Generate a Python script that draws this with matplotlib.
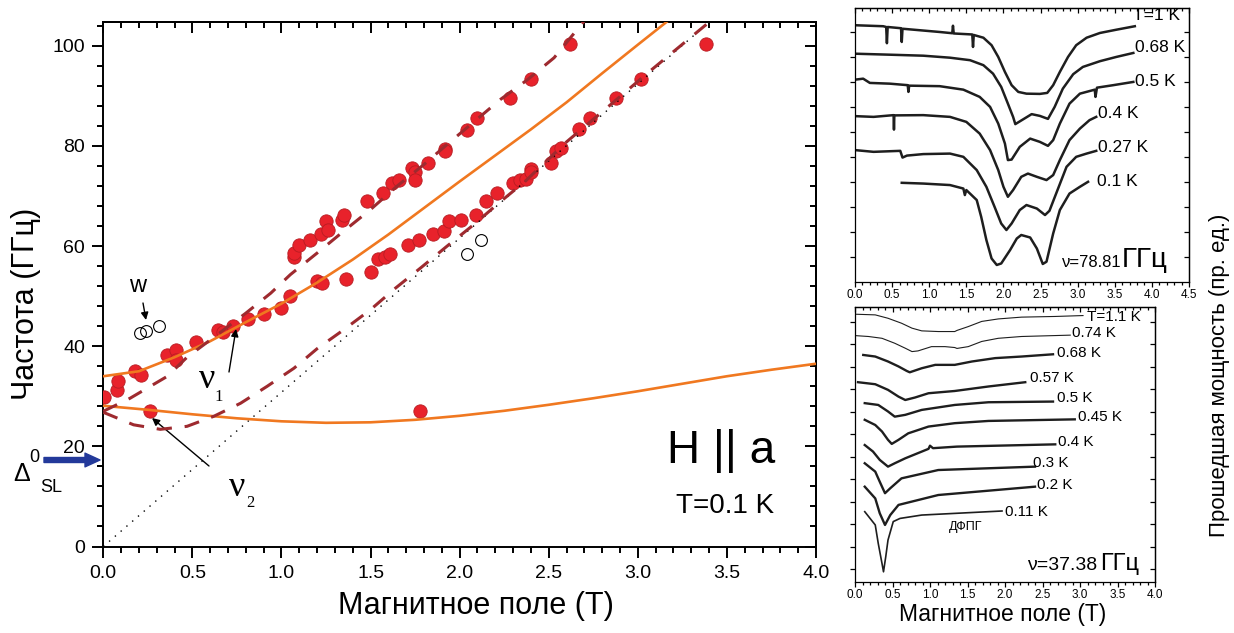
import matplotlib
matplotlib.use('Agg')
import matplotlib.pyplot as plt
from matplotlib.ticker import MultipleLocator, FixedLocator, NullFormatter
import numpy as np

plt.rcParams['font.family'] = ['Liberation Sans', 'DejaVu Sans']

W, H = 1234, 633

# ---------------- main panel data ----------------
pts_B = [0.006, 0.075, 0.08, 0.18, 0.21, 0.26, 0.36, 0.41, 0.41, 0.52, 0.645, 0.67, 0.73,
         0.81, 0.90, 1.00, 1.05, 1.07, 1.07, 1.10, 1.16, 1.20, 1.23, 1.22, 1.25, 1.26, 1.34,
         1.35, 1.36, 1.48, 1.50, 1.54, 1.58, 1.61, 1.57, 1.62, 1.66, 1.71, 1.73, 1.75, 1.75,
         1.77, 1.78, 1.82, 1.85, 1.91, 1.92, 1.92, 1.94, 2.01, 2.04, 2.09, 2.10, 2.15, 2.21,
         2.28, 2.30, 2.34, 2.37, 2.40, 2.40, 2.40, 2.51, 2.54, 2.57, 2.62, 2.67, 2.73, 2.88,
         3.02, 3.38]
pts_F = [29.8, 31.2, 33.0, 35.0, 34.3, 27.0, 38.2, 39.2, 37.3, 40.8, 43.2, 42.8, 44.0,
         45.4, 46.4, 47.7, 50.0, 57.8, 58.6, 60.2, 61.2, 53.0, 52.6, 62.4, 65.0, 63.2, 65.3,
         66.2, 53.4, 69.0, 54.8, 57.4, 57.8, 58.5, 70.6, 72.6, 73.2, 60.3, 75.6, 74.8, 73.2,
         61.2, 27.0, 76.6, 62.5, 63.1, 79.4, 79.0, 65.0, 65.2, 83.2, 66.2, 85.5, 68.9, 70.5,
         89.6, 72.6, 73.2, 73.4, 93.3, 75.4, 74.8, 76.6, 78.9, 79.6, 100.4, 83.3, 85.5, 89.6,
         93.3, 100.4]

open_B = [0.206, 0.241, 0.31, 2.04, 2.12]
open_F = [42.6, 43.0, 44.0, 58.5, 61.2]

# theory curves
nu1_B = [0.0, 0.2, 0.4, 0.6, 0.8, 1.0, 1.2, 1.4, 1.6, 1.8, 2.0, 2.2, 2.4, 2.6, 2.8, 3.0, 3.17]
nu1_F = [34.0, 35.0, 37.8, 41.0, 44.8, 48.5, 52.7, 57.3, 62.3, 67.6, 72.9, 78.1, 83.3, 88.7, 94.5, 100.2, 105.0]
nu2_B = [0.0, 0.25, 0.5, 0.75, 1.0, 1.25, 1.5, 1.75, 2.0, 2.25, 2.5, 2.75, 3.0, 3.25, 3.5, 3.75, 4.0]
nu2_F = [28.1, 27.3, 26.4, 25.6, 25.0, 24.7, 24.8, 25.3, 26.1, 27.1, 28.3, 29.6, 31.0, 32.5, 34.0, 35.3, 36.5]
d1_B = [0.0, 0.15, 0.36, 0.47, 0.64, 0.80, 0.94, 1.05, 1.20, 1.35, 1.50, 1.65, 1.80, 1.92, 2.04, 2.23, 2.38, 2.53, 2.70]
d1_F = [27.0, 29.6, 34.0, 37.8, 42.3, 46.6, 50.6, 54.3, 58.6, 63.0, 67.3, 72.0, 76.3, 80.0, 83.6, 89.3, 93.2, 97.6, 105.0]
d2_B = [0.0, 0.17, 0.32, 0.47, 0.62, 0.77, 0.92, 1.07, 1.20, 1.35, 1.50, 1.64, 1.78, 1.93, 2.08, 2.22, 2.37, 2.6, 2.8, 3.05, 3.41]
d2_F = [26.8, 24.3, 23.4, 24.0, 26.0, 28.6, 32.0, 35.6, 39.5, 43.3, 47.3, 51.6, 55.6, 60.0, 64.3, 68.6, 73.0, 80.8, 86.8, 94.4, 105.0]
dot_B = [0.0, 3.41]
dot_F = [0.0, 105.0]

# ---------------- top inset (nu = 78.81 GHz) ----------------
a_T1_B = [0, 0.38, 0.42, 0.43, 0.44, 0.62, 0.63, 0.64, 1.14, 1.31, 1.32, 1.33, 1.58, 1.59, 1.60, 1.73, 1.84,
          1.93, 2.02, 2.11, 2.20, 2.31, 2.49, 2.59, 2.67, 2.76, 2.87, 2.98, 3.12, 3.30, 3.52, 3.77]
a_T1_y = [10.27, 10.23, 10.2, 9.55, 10.2, 10.15, 9.6, 10.13, 10.0, 9.95, 10.25, 9.94, 9.9, 9.4, 9.88, 9.77, 9.47,
          9.0, 8.4, 7.87, 7.6, 7.53, 7.52, 7.56, 7.87, 8.4, 9.0, 9.47, 9.77, 9.96, 10.09, 10.23]
a_068_B = [0.0, 0.47, 0.92, 1.28, 1.55, 1.73, 1.86, 1.97, 2.06, 2.13, 2.16, 2.27, 2.38, 2.49, 2.60, 2.69,
           2.80, 2.94, 3.07, 3.30, 3.52, 3.75]
a_068_y = [9.13, 9.09, 9.05, 8.97, 8.87, 8.67, 8.33, 7.80, 7.13, 6.60, 6.31, 6.51, 6.71, 6.64, 6.52, 7.00,
           7.73, 8.31, 8.60, 8.83, 9.00, 9.16]
a_05_B = [0, 0.11, 0.20, 0.47, 0.71, 0.72, 0.73, 1.14, 1.46, 1.68, 1.82, 1.93, 2.02, 2.06, 2.11, 2.22, 2.36,
          2.49, 2.60, 2.67, 2.76, 2.89, 3.03, 3.23, 3.24, 3.26, 3.48, 3.75]
a_05_y = [8.09, 8.13, 7.96, 7.93, 7.87, 7.60, 7.85, 7.83, 7.69, 7.40, 7.00, 6.33, 5.53, 4.87, 4.89, 5.40, 5.73,
          5.60, 5.44, 5.67, 6.33, 7.13, 7.53, 7.69, 7.40, 7.77, 7.87, 8.00]
a_04_B = [0, 0.25, 0.52, 0.525, 0.53, 0.92, 1.28, 1.50, 1.68, 1.82, 1.93, 2.00, 2.06, 2.13, 2.24, 2.33, 2.45,
          2.58, 2.67, 2.76, 2.89, 3.03, 3.16, 3.25]
a_04_y = [6.63, 6.60, 6.67, 6.09, 6.66, 6.67, 6.60, 6.40, 5.93, 5.27, 4.47, 3.80, 3.40, 3.67, 4.20, 4.33, 4.20,
          4.07, 4.27, 4.87, 5.67, 6.13, 6.47, 6.60]
a_027_B = [0, 0.25, 0.61, 0.64, 0.70, 0.92, 1.28, 1.46, 1.64, 1.77, 1.88, 1.97, 2.04, 2.11, 2.22, 2.31, 2.45,
           2.56, 2.62, 2.71, 2.85, 2.98, 3.12, 3.25]
a_027_y = [5.27, 5.20, 5.24, 4.97, 5.05, 5.11, 5.13, 5.00, 4.47, 3.80, 3.00, 2.33, 2.07, 2.33, 2.87, 3.07, 2.93,
           2.67, 2.84, 3.53, 4.60, 5.00, 5.13, 5.24]
a_01_B = [0.63, 0.92, 1.28, 1.46, 1.48, 1.50, 1.64, 1.70, 1.77, 1.84, 1.91, 1.97, 2.09, 2.18, 2.24, 2.36, 2.45,
          2.53, 2.58, 2.67, 2.76, 2.89, 3.03, 3.14]
a_01_y = [3.96, 3.93, 3.87, 3.73, 3.47, 3.67, 3.27, 2.60, 1.67, 0.93, 0.67, 0.73, 1.27, 1.73, 1.87, 1.77, 1.33,
          0.71, 0.80, 1.93, 2.87, 3.53, 3.80, 4.00]
top_labels = ['T=1 K', '0.68 K', '0.5 K', '0.4 K', '0.27 K', '0.1 K']

# ---------------- bottom inset (nu = 37.38 GHz) ----------------
b_11_B = [0, 0.27, 0.44, 0.62, 0.76, 0.89, 1.11, 1.33, 1.36, 1.51, 1.69, 1.91, 2.22, 2.67, 3.04]
b_11_y = [11.88, 11.85, 11.70, 11.48, 11.26, 11.14, 11.11, 11.11, 11.16, 11.33, 11.56, 11.67, 11.75, 11.78, 11.82]
b_074_B = [0, 0.18, 0.36, 0.53, 0.67, 0.76, 0.84, 1.02, 1.20, 1.33, 1.36, 1.51, 1.69, 1.91, 2.22, 2.87]
b_074_y = [10.93, 10.89, 10.81, 10.59, 10.37, 10.22, 10.25, 10.44, 10.44, 10.40, 10.36, 10.44, 10.67, 10.81, 10.89, 10.95]
b_068_B = [0.11, 0.27, 0.44, 0.58, 0.69, 0.73, 0.89, 1.07, 1.33, 1.56, 1.87, 2.22, 2.64]
b_068_y = [10.07, 10.0, 9.78, 9.56, 9.36, 9.30, 9.48, 9.63, 9.63, 9.78, 9.93, 10.0, 10.10]
b_057_B = [0.04, 0.27, 0.44, 0.58, 0.67, 0.80, 0.98, 1.33, 1.78, 2.27]
b_057_y = [8.86, 8.77, 8.52, 8.22, 8.07, 8.18, 8.37, 8.47, 8.67, 8.86]
b_05_B = [0.13, 0.31, 0.44, 0.53, 0.67, 0.89, 1.33, 1.78, 2.64]
b_05_y = [7.93, 7.85, 7.56, 7.33, 7.41, 7.63, 7.85, 7.97, 8.0]
b_045_B = [0.13, 0.27, 0.36, 0.44, 0.49, 0.58, 0.71, 0.98, 1.33, 1.78, 2.93]
b_045_y = [7.19, 6.96, 6.67, 6.30, 6.12, 6.30, 6.59, 6.89, 7.04, 7.14, 7.21]
b_04_B = [0.13, 0.24, 0.33, 0.44, 0.53, 0.67, 0.98, 1.0, 1.04, 1.36, 2.67]
b_04_y = [6.07, 5.78, 5.41, 5.11, 5.26, 5.48, 5.90, 6.04, 5.93, 6.0, 6.10]
b_03_B = [0.13, 0.27, 0.33, 0.40, 0.47, 0.62, 1.11, 2.40]
b_03_y = [5.26, 4.89, 4.44, 3.93, 4.15, 4.59, 4.96, 5.11]
b_02_B = [0.13, 0.27, 0.33, 0.40, 0.47, 0.58, 1.11, 2.40]
b_02_y = [4.22, 3.70, 3.04, 2.52, 2.96, 3.41, 3.85, 4.22]
b_011_B = [0.13, 0.27, 0.31, 0.36, 0.38, 0.41, 0.44, 0.51, 0.60, 0.89, 1.96]
b_011_y = [3.11, 2.52, 1.70, 0.81, 0.44, 1.11, 1.85, 2.67, 2.81, 2.96, 3.14]
bot_labels = ['T=1.1 K', '0.74 K', '0.68 K', '0.57 K', '0.5 K', '0.45 K', '0.4 K', '0.3 K', '0.2 K', '0.11 K']

# ---------------- drawing ----------------
fig = plt.figure(figsize=(W / 100, H / 100), dpi=100)

def fr(px, py):
    return px / W, 1 - py / H

def rect(l, t, r, b):
    return [l / W, 1 - b / H, (r - l) / W, (b - t) / H]

def style(ax, xmaj, xmin, yloc, ymin_loc, major_len, minor_len, lw, lsize, pad):
    for s in ax.spines.values():
        s.set_linewidth(lw)
    ax.xaxis.set_major_locator(MultipleLocator(xmaj))
    ax.xaxis.set_minor_locator(MultipleLocator(xmin))
    ax.yaxis.set_major_locator(yloc)
    if ymin_loc is not None:
        ax.yaxis.set_minor_locator(ymin_loc)
    ax.tick_params(which='major', direction='out', length=major_len, width=lw, labelsize=lsize, pad=pad)
    ax.tick_params(which='minor', direction='out', length=minor_len, width=lw)
    sx = ax.secondary_xaxis('top')
    sx.xaxis.set_major_locator(MultipleLocator(xmaj))
    sx.xaxis.set_minor_locator(MultipleLocator(xmin))
    sx.tick_params(which='major', direction='in', length=major_len, width=lw, labeltop=False)
    sx.tick_params(which='minor', direction='in', length=minor_len, width=lw)
    sy = ax.secondary_yaxis('right')
    sy.yaxis.set_major_locator(yloc)
    if ymin_loc is not None:
        sy.yaxis.set_minor_locator(ymin_loc)
    sy.tick_params(which='major', direction='in', length=major_len, width=lw, labelright=False)
    sy.tick_params(which='minor', direction='in', length=minor_len, width=lw)
    for s in list(sx.spines.values()) + list(sy.spines.values()):
        s.set_linewidth(lw)

# main axes
ax = fig.add_axes(rect(103.3, 21.7, 816, 546.5))
ax.set_xlim(0, 4.0)
ax.set_ylim(0, 104.8)
style(ax, 0.5, 0.1, MultipleLocator(20), MultipleLocator(4), 8, 4.5, 1.4, 14, 5)
ax.xaxis.set_major_formatter(matplotlib.ticker.FormatStrFormatter('%.1f'))

orange = '#f07820'
dred = '#9e2a2f'
ax.plot(pts_B, pts_F, 'o', ms=9.6, mfc='#e8222b', mec='#b71c22', mew=0.6, zorder=3)
ax.plot(open_B, open_F, 'o', ms=8.5, mfc='none', mec='black', mew=0.8, zorder=3)
ax.plot(dot_B, dot_F, color='black', lw=1.0, dashes=(1, 4.5), zorder=4)
ax.plot(nu1_B, nu1_F, color=orange, lw=1.9, zorder=5)
ax.plot(nu2_B, nu2_F, color=orange, lw=1.9, zorder=5)
ax.plot(d1_B, d1_F, color=dred, lw=2.2, dashes=(5, 4.2), zorder=5)
ax.plot(d2_B, d2_F, color=dred, lw=2.2, dashes=(5, 4.2), zorder=5)

def fp(px, py):
    return (px, H - py)

arr = dict(arrowstyle='-|>', lw=1.0, color='black', mutation_scale=11, shrinkA=0, shrinkB=0)
ax.annotate('', xy=fp(146, 320), xytext=fp(143, 303), xycoords='figure pixels',
            textcoords='figure pixels', arrowprops=arr, annotation_clip=False)
ax.annotate('', xy=fp(236, 329), xytext=fp(229, 372), xycoords='figure pixels',
            textcoords='figure pixels', arrowprops=arr, annotation_clip=False)
ax.annotate('', xy=fp(152, 418), xytext=fp(209, 466), xycoords='figure pixels',
            textcoords='figure pixels', arrowprops=arr, annotation_clip=False)
ax.annotate('', xy=fp(100, 460), xytext=fp(44, 460), xycoords='figure pixels',
            textcoords='figure pixels', annotation_clip=False,
            arrowprops=dict(arrowstyle='simple,head_width=0.55,head_length=0.6,tail_width=0.2',
                            color='#23399a', mutation_scale=18, shrinkA=0, shrinkB=0))

fig.text(*fr(138, 286), 'w', fontsize=17, ha='center', va='center')
serif = ['Liberation Serif', 'DejaVu Serif']
fig.text(*fr(207, 380), 'ν', fontsize=26, family=serif, ha='center', va='center')
fig.text(*fr(219, 397), '1', fontsize=12, family=serif, ha='center', va='center')
fig.text(*fr(237, 488), 'ν', fontsize=26, family=serif, ha='center', va='center')
fig.text(*fr(250, 503), '2', fontsize=12, family=serif, ha='center', va='center')
fig.text(*fr(22, 474), 'Δ', fontsize=18, ha='center', va='center')
fig.text(*fr(34, 458), '0', fontsize=13, ha='center', va='center')
fig.text(*fr(51, 487), 'SL', fontsize=13, ha='center', va='center')
fig.text(*fr(667, 463), 'H || a', fontsize=33, ha='left', va='baseline')
fig.text(*fr(676, 513), 'T=0.1 K', fontsize=20, ha='left', va='baseline')

fig.text(*fr(26, 304), 'Частота (ГГц)', fontsize=22, rotation=90, ha='center', va='center')
fig.text(*fr(476, 606), 'Магнитное поле (Т)', fontsize=22, ha='center', va='center')

# top inset
tc = '#1e1e1e'
ai = fig.add_axes(rect(855, 8, 1189, 281.7))
ai.set_xlim(0, 4.5)
ai.set_ylim(0, 10.96)
style(ai, 0.5, 0.1, FixedLocator(np.arange(1, 11)), None, 3.5, 2, 0.9, 8.5, 2)
ai.yaxis.set_major_formatter(NullFormatter())
ai.xaxis.set_major_formatter(matplotlib.ticker.FormatStrFormatter('%.1f'))
top_traces = [(a_T1_B, a_T1_y), (a_068_B, a_068_y), (a_05_B, a_05_y),
              (a_04_B, a_04_y), (a_027_B, a_027_y), (a_01_B, a_01_y)]
for xb, yy in top_traces:
    ai.plot(xb, yy, color=tc, lw=1.8, solid_joinstyle='round')
top_lab_pos = [(1133, 15), (1135, 48), (1135, 82), (1098, 113), (1098, 147), (1097, 182)]
for lab, (px, py) in zip(top_labels, top_lab_pos):
    fig.text(*fr(px, py), lab, fontsize=12.5, ha='left', va='center')
fig.text(*fr(1062, 267), 'ν=78.81', fontsize=12, ha='left', va='baseline')
fig.text(*fr(1122, 267), 'ГГц', fontsize=20, ha='left', va='baseline')

# bottom inset
bi = fig.add_axes(rect(855, 307, 1155, 581.7))
bi.set_xlim(0, 4.0)
bi.set_ylim(0, 12.2)
style(bi, 0.5, 0.1, FixedLocator(np.arange(0.55, 12.0, 1.0)), None, 3.5, 2, 0.9, 8.5, 2)
bi.yaxis.set_major_formatter(NullFormatter())
bi.xaxis.set_major_formatter(matplotlib.ticker.FormatStrFormatter('%.1f'))
bot_traces = [(b_11_B, b_11_y, 0.8), (b_074_B, b_074_y, 0.8), (b_068_B, b_068_y, 1.7),
              (b_057_B, b_057_y, 1.7), (b_05_B, b_05_y, 1.7), (b_045_B, b_045_y, 1.7),
              (b_04_B, b_04_y, 1.7), (b_03_B, b_03_y, 1.7), (b_02_B, b_02_y, 1.7),
              (b_011_B, b_011_y, 1.2)]
for xb, yy, lw in bot_traces:
    bi.plot(xb, yy, color=tc, lw=lw, solid_joinstyle='round')
bot_lab_pos = [(1087, 317), (1072, 333), (1057, 353), (1030, 378), (1057, 398),
               (1078, 417), (1058, 442), (1033, 463), (1037, 485), (1005, 512)]
for lab, (px, py) in zip(bot_labels, bot_lab_pos):
    fig.text(*fr(px, py), lab, fontsize=11, ha='left', va='center')
fig.text(*fr(966, 527), 'ДФПГ', fontsize=9, ha='center', va='center')
fig.text(*fr(1027, 570), 'ν=37.38', fontsize=14, ha='left', va='baseline')
fig.text(*fr(1100, 570), 'ГГц', fontsize=17, ha='left', va='baseline')
fig.text(*fr(1003, 614), 'Магнитное поле (Т)', fontsize=16.5, ha='center', va='center')

fig.text(*fr(1220, 375), 'Прошедшая мощность (пр. ед.)', fontsize=16, rotation=90,
         ha='center', va='center')

fig.savefig('out.png', dpi=100)
